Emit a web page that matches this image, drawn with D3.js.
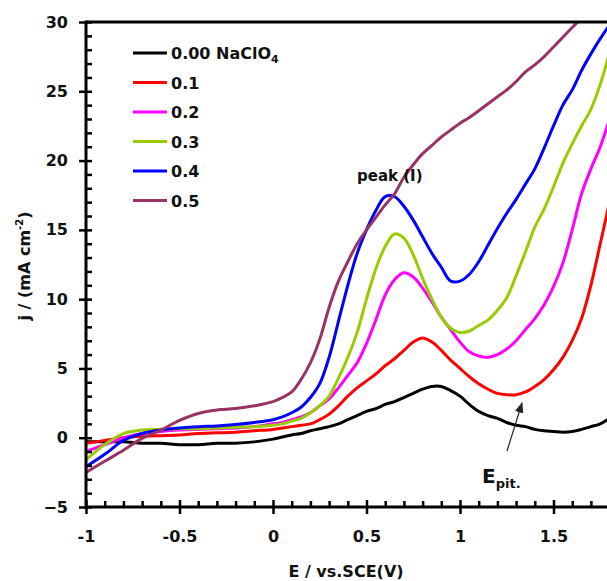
<!DOCTYPE html>
<html lang="en">
<head>
<meta charset="utf-8">
<title>j vs E - NaClO4</title>
<script src="https://d3js.org/d3.v7.min.js"></script>
<style>
  body { margin: 0; background: #fff; }
  svg text { font-family: "DejaVu Sans", sans-serif; font-weight: bold; fill: #111; }
  .axis path, .axis line { stroke: #000; }
</style>
</head>
<body>
<div id="chart"></div>
<script>
// potential grid (V vs SCE)
const potential = [-1, -0.9, -0.8, -0.7, -0.6, -0.5, -0.4, -0.3, -0.2, -0.1,
  0, 0.05, 0.1, 0.15, 0.2, 0.25, 0.3, 0.35, 0.4, 0.45, 0.5, 0.55, 0.6, 0.65,
  0.7, 0.75, 0.8, 0.85, 0.9, 0.95, 1.0, 1.05, 1.1, 1.15, 1.2, 1.25, 1.3, 1.35,
  1.4, 1.45, 1.5, 1.55, 1.6, 1.65, 1.7, 1.75, 1.8];

// current density (mA cm-2) for each NaClO4 concentration
const j000 = [-0.3, -0.3, -0.3, -0.4, -0.4, -0.5, -0.5, -0.4, -0.4, -0.3,
  -0.1, 0.05, 0.2, 0.3, 0.5, 0.65, 0.8, 1.0, 1.3, 1.6, 1.9, 2.1, 2.4, 2.6,
  2.9, 3.2, 3.5, 3.7, 3.7, 3.4, 3.0, 2.4, 1.9, 1.6, 1.4, 1.1, 0.9, 0.8,
  0.6, 0.5, 0.45, 0.4, 0.45, 0.6, 0.8, 1.0, 1.4];
const j01 = [-0.4, -0.2, 0, 0.1, 0.15, 0.2, 0.3, 0.35, 0.4, 0.5,
  0.6, 0.7, 0.8, 0.9, 1.0, 1.3, 1.7, 2.3, 3.0, 3.6, 4.1, 4.6, 5.2, 5.7,
  6.3, 6.9, 7.2, 6.9, 6.3, 5.6, 5.0, 4.4, 3.9, 3.5, 3.2, 3.1, 3.1, 3.3,
  3.7, 4.2, 4.9, 5.8, 7.0, 8.6, 11.0, 14.0, 17.0];
const j02 = [-1.0, -0.5, 0, 0.3, 0.45, 0.55, 0.6, 0.65, 0.7, 0.8,
  1.0, 1.1, 1.3, 1.5, 1.8, 2.3, 2.8, 3.6, 4.5, 5.4, 6.8, 8.5, 10.3, 11.4,
  11.9, 11.6, 10.8, 9.8, 8.7, 7.8, 6.9, 6.2, 5.9, 5.8, 6.0, 6.4, 7.0, 7.8,
  8.6, 9.6, 10.9, 12.6, 15.0, 17.6, 19.4, 21.0, 23.0];
const j03 = [-1.6, -0.5, 0.3, 0.55, 0.6, 0.65, 0.65, 0.7, 0.75, 0.8,
  0.9, 1.0, 1.2, 1.4, 1.8, 2.3, 3.0, 4.3, 5.8, 7.6, 10.0, 12.2, 13.8, 14.7,
  14.4, 13.2, 11.5, 10.0, 8.7, 7.9, 7.6, 7.7, 8.1, 8.5, 9.2, 10.1, 11.7, 13.4,
  15.2, 16.5, 18.1, 19.8, 21.2, 22.5, 23.7, 25.5, 27.8];
const j04 = [-2.1, -1.2, -0.2, 0.3, 0.55, 0.7, 0.8, 0.85, 0.95, 1.1,
  1.3, 1.5, 1.8, 2.2, 2.9, 3.9, 5.8, 8.4, 11.0, 13.3, 15.0, 16.4, 17.4, 17.4,
  16.7, 15.7, 14.5, 13.3, 12.3, 11.3, 11.3, 11.8, 12.7, 13.9, 15.1, 16.2, 17.2, 18.3,
  19.4, 20.9, 22.5, 24.0, 25.1, 26.5, 27.7, 28.8, 29.8];
const j05 = [-2.5, -1.7, -0.9, -0.05, 0.55, 1.25, 1.75, 2.0, 2.1, 2.3,
  2.6, 2.9, 3.3, 4.2, 5.4, 7.1, 9.4, 11.3, 12.7, 14.0, 15.0, 15.9, 16.8, 17.6,
  18.8, 19.7, 20.5, 21.1, 21.7, 22.2, 22.7, 23.1, 23.6, 24.1, 24.6, 25.1, 25.7, 26.4,
  26.9, 27.5, 28.2, 28.9, 29.6, 30.3, null, null, null];

const seriesNames = ["0.00", "0.1", "0.2", "0.3", "0.4", "0.5"];
const seriesValues = [j000, j01, j02, j03, j04, j05];
const seriesColors = ["#000000", "#ff0000", "#ff00ff", "#99cc00", "#0000ff", "#993366"];

const xMajor = [-1, -0.5, 0, 0.5, 1, 1.5];
const yMajor = [-5, 0, 5, 10, 15, 20, 25, 30];

const width = 607, height = 581;
const plotLeft = 86, plotTop = 22, plotBottom = 507;

const svg = d3.select("#chart").append("svg")
  .attr("width", width).attr("height", height);

const x = d3.scaleLinear().domain([-1, 1.8]).range([plotLeft, plotLeft + 2.8 * 187]);
const y = d3.scaleLinear().domain([-5, 30]).range([plotBottom, plotTop]);

const defs = svg.append("defs");
defs.append("clipPath").attr("id", "plot")
  .append("rect").attr("x", plotLeft).attr("y", plotTop)
  .attr("width", width - plotLeft).attr("height", plotBottom - plotTop);

// curves
const line = d3.line()
  .defined(d => d[1] !== null)
  .x(d => x(d[0])).y(d => y(d[1]))
  .curve(d3.curveCatmullRom.alpha(0.5));

const curves = svg.append("g").attr("clip-path", "url(#plot)");
seriesValues.forEach((vals, i) => {
  curves.append("path")
    .datum(potential.map((e, k) => [e, vals[k]]))
    .attr("fill", "none")
    .attr("stroke", seriesColors[i])
    .attr("stroke-width", 3)
    .attr("stroke-linejoin", "round")
    .attr("d", line);
});

// minor ticks (inside)
const xMinor = d3.range(-10, 19).map(d => d / 10).filter(d => !xMajor.some(m => Math.abs(m - d) < 1e-9));
const yMinor = d3.range(-5, 31).filter(d => d % 5 !== 0);

svg.append("g").attr("class", "axis")
  .attr("transform", `translate(0,${plotBottom})`)
  .call(d3.axisBottom(x).tickValues(xMinor).tickSize(-6).tickFormat(""))
  .call(g => g.select(".domain").remove())
  .selectAll("line").attr("stroke-width", 2.5);

svg.append("g").attr("class", "axis")
  .attr("transform", `translate(${plotLeft},0)`)
  .call(d3.axisLeft(y).tickValues(yMinor).tickSize(-6).tickFormat(""))
  .call(g => g.select(".domain").remove())
  .selectAll("line").attr("stroke-width", 2.5);

// major axes
const xAxis = svg.append("g").attr("class", "axis")
  .attr("transform", `translate(0,${plotBottom})`)
  .call(d3.axisBottom(x).tickValues(xMajor).tickSize(7).tickPadding(17)
    .tickFormat(d => String(d)));
xAxis.select(".domain").remove();
xAxis.selectAll("line").attr("y1", -7).attr("stroke-width", 2.5);
xAxis.selectAll("text").attr("font-size", 16).attr("font-family", null).attr("fill", "#111");

const yAxis = svg.append("g").attr("class", "axis")
  .attr("transform", `translate(${plotLeft},0)`)
  .call(d3.axisLeft(y).tickValues(yMajor).tickSize(7).tickPadding(11));
yAxis.select(".domain").remove();
yAxis.selectAll("line").attr("x1", 6).attr("stroke-width", 2.5);
yAxis.selectAll("text").attr("font-size", 16).attr("font-family", null).attr("fill", "#111");

// frame lines
svg.append("line").attr("x1", plotLeft).attr("x2", width).attr("y1", plotBottom).attr("y2", plotBottom)
  .attr("stroke", "#000").attr("stroke-width", 3);
svg.append("line").attr("x1", plotLeft).attr("x2", width).attr("y1", plotTop).attr("y2", plotTop)
  .attr("stroke", "#000").attr("stroke-width", 3);
svg.append("line").attr("x1", plotLeft).attr("x2", plotLeft).attr("y1", plotTop - 1.5).attr("y2", plotBottom + 1.5)
  .attr("stroke", "#000").attr("stroke-width", 3);

// axis titles
svg.append("text").attr("x", 346).attr("y", 577).attr("text-anchor", "middle")
  .attr("font-size", 16).text("E / vs.SCE(V)");

const yTitle = svg.append("text").attr("transform", "translate(30,266) rotate(-90)")
  .attr("text-anchor", "middle").attr("font-size", 16);
yTitle.append("tspan").text("j / (mA cm");
yTitle.append("tspan").attr("font-size", 10).attr("dy", -7).text("-2");
yTitle.append("tspan").attr("dy", 7).text(")");

// legend
const legend = svg.append("g");
seriesNames.forEach((name, i) => {
  const ly = 53 + i * 29.5;
  legend.append("line").attr("x1", 133).attr("x2", 167).attr("y1", ly).attr("y2", ly)
    .attr("stroke", seriesColors[i]).attr("stroke-width", 3);
  const t = legend.append("text").attr("x", 171).attr("y", ly + 6).attr("font-size", 16);
  t.append("tspan").text(name);
  if (i === 0) {
    t.append("tspan").text(" NaClO");
    t.append("tspan").attr("font-size", 11).attr("dy", 4).text("4");
  }
});

// annotations
svg.append("text").attr("x", 357).attr("y", 181).attr("font-size", 15).text("peak (I)");

const ep = svg.append("text").attr("x", 482).attr("y", 483).attr("font-size", 20);
ep.append("tspan").text("E");
ep.append("tspan").attr("font-size", 13).attr("dy", 5).text("pit.");

defs.append("marker").attr("id", "arrow")
  .attr("viewBox", "0 0 10 10").attr("refX", 9).attr("refY", 5)
  .attr("markerWidth", 9).attr("markerHeight", 9).attr("orient", "auto")
  .append("path").attr("d", "M0,1 L10,5 L0,9 z").attr("fill", "#222");
svg.append("line").attr("x1", 507).attr("y1", 451).attr("x2", 522).attr("y2", 403)
  .attr("stroke", "#222").attr("stroke-width", 1.2).attr("marker-end", "url(#arrow)");
</script>
</body>
</html>
